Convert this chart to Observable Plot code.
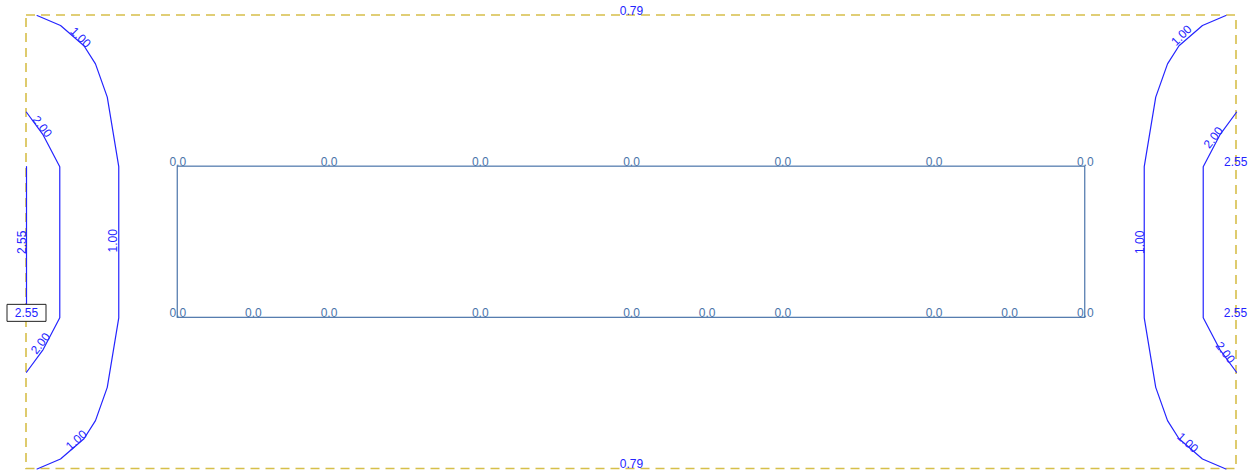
<!DOCTYPE html>
<html>
<head>
<meta charset="utf-8">
<script src="https://cdn.jsdelivr.net/npm/d3@7"></script>
<script src="https://cdn.jsdelivr.net/npm/@observablehq/plot@0.6"></script>
<style>
  html, body { margin: 0; padding: 0; background: #ffffff; }
  #chart { width: 1258px; height: 474px; }
</style>
</head>
<body>
<div id="chart"></div>
<script>
// ---- Data (plan coordinates, units) ----
const outlineX = [0, 8];
const outlineY = [0, 3];
const innerX = [1, 7];
const innerY = [1, 2];

const topTickX = [1, 2, 3, 4, 5, 6, 7];
const bottomTickX = [1, 1.5, 2, 3, 4, 4.5, 5, 6, 6.5, 7];
const tickValue = "0.0";

const contour100Left = [[0.07,0],[0.225,0.066],[0.38,0.2],[0.456,0.32],[0.534,0.54],[0.61,1.0],[0.61,2.0],[0.534,2.46],[0.456,2.68],[0.38,2.8],[0.225,2.934],[0.07,3]];
const contour100Right = [[7.93,0],[7.775,0.066],[7.62,0.2],[7.544,0.32],[7.466,0.54],[7.39,1.0],[7.39,2.0],[7.466,2.46],[7.544,2.68],[7.62,2.8],[7.775,2.934],[7.93,3]];
const contour200Left = [[0,0.64],[0.11,0.79],[0.22,1.0],[0.22,2.0],[0.11,2.21],[0,2.36]];
const contour200Right = [[8,0.64],[7.89,0.79],[7.78,1.0],[7.78,2.0],[7.89,2.21],[8,2.36]];
const contour255Left = [[0,1],[0,2]];

const labelText  = ["1.00","2.00","2.00","1.00","1.00","2.55","1.00","2.00","1.00","2.55","2.55","2.00","1.00"];
const labelX     = [0.357, 0.103, 0.093, 0.33, 0.576, -0.028, 7.636, 7.848, 7.363, 7.995, 7.993, 7.925, 7.676];
const labelY     = [0.146, 0.735, 2.17, 2.81, 1.49, 1.50, 0.132, 0.808, 1.50, 0.967, 1.969, 2.23, 2.826];
const labelAngle = [45, 52, -52, -42, -90, -90, -45, -52, -90, 0, 0, 52, 42];

const edgeLabelText = ["0.79", "0.79"];
const edgeLabelX = [4, 4];
const edgeLabelY = [0, 3];

const maxLabelText = "2.55";
const maxLabelX = 0;
const maxLabelY = 1.967;

// ---- Build tables ----
const outline = [{x1: outlineX[0], x2: outlineX[1], y1: outlineY[0], y2: outlineY[1]}];
const inner = [{x1: innerX[0], x2: innerX[1], y1: innerY[0], y2: innerY[1]}];
const topTicks = topTickX.map(x => ({x, y: innerY[0], t: tickValue}));
const bottomTicks = bottomTickX.map(x => ({x, y: innerY[1], t: tickValue}));
const contours = [contour100Left, contour100Right, contour200Left, contour200Right, contour255Left];
const labels = labelText.map((t, i) => ({t, x: labelX[i], y: labelY[i], a: labelAngle[i]}));
const edgeLabels = edgeLabelText.map((t, i) => ({t, x: edgeLabelX[i], y: edgeLabelY[i]}));
const maxLabel = [{t: maxLabelText, x: maxLabelX, y: maxLabelY}];

const BLUE = "#2424ff";
const STEEL = "#4a74aa";
const GOLD = "#d6bf4a";

const boxSymbol = {
  draw(context) {
    context.moveTo(-19.5, -8.5);
    context.lineTo(19.5, -8.5);
    context.lineTo(19.5, 8.5);
    context.lineTo(-19.5, 8.5);
    context.closePath();
  }
};

const chart = Plot.plot({
  width: 1258,
  height: 474,
  margin: 0,
  x: {domain: [0, 8], range: [26, 1236], axis: null},
  y: {domain: [0, 3], range: [15, 468.5], axis: null},
  style: {fontFamily: "'Liberation Sans', Arial, sans-serif", fontSize: "12px", background: "#ffffff"},
  marks: [
    Plot.rect(outline, {x1: "x1", x2: "x2", y1: "y1", y2: "y2", fill: "none", stroke: GOLD, strokeWidth: 1.6, strokeDasharray: "9,6"}),
    Plot.rect(inner, {x1: "x1", x2: "x2", y1: "y1", y2: "y2", fill: "none", stroke: STEEL, strokeWidth: 1.2}),
    ...contours.map(c => Plot.line(c, {x: d => d[0], y: d => d[1], stroke: BLUE, strokeWidth: 1.2})),
    Plot.text(topTicks, {x: "x", y: "y", text: "t", fill: STEEL, lineAnchor: "bottom", dy: -1}),
    Plot.text(bottomTicks, {x: "x", y: "y", text: "t", fill: STEEL, lineAnchor: "bottom", dy: -1}),
    Plot.text(labels, {x: "x", y: "y", text: "t", rotate: "a", fill: BLUE}),
    Plot.text(edgeLabels, {x: "x", y: "y", text: "t", fill: BLUE, lineAnchor: "bottom", dy: -1}),
    Plot.dot(maxLabel, {x: "x", y: "y", symbol: boxSymbol, r: 5, fill: "white", stroke: "#222222", strokeWidth: 1}),
    Plot.text(maxLabel, {x: "x", y: "y", text: "t", fill: BLUE})
  ]
});
document.getElementById("chart").appendChild(chart);
</script>
</body>
</html>
